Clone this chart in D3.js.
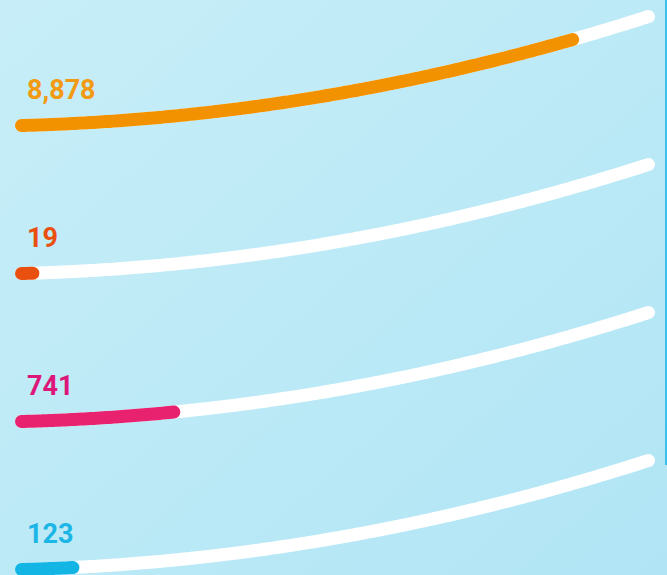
<!DOCTYPE html>
<html>
<head>
<meta charset="utf-8">
<script src="https://cdn.jsdelivr.net/npm/d3@7.9.0/dist/d3.min.js"></script>
<style>
  html, body { margin: 0; padding: 0; overflow: hidden; }
  svg { display: block; }
</style>
</head>
<body>
<svg id="chart"></svg>
<script>
// Values shown on each track, and the goal each one is measured against
const values = [8878, 19, 741, 123];
const goals = [10100, 1050, 3050, 1500];
const barColors = ["#f39200", "#e9500f", "#e8226f", "#13b5e5"];
const textColors = ["#f39a14", "#e9500f", "#dd1779", "#1bb6e6"];

const width = 667;
const height = 575;
const strokeW = 13;
const rise = 109; // how far the track climbs from left to right

const svg = d3.select("#chart")
  .attr("width", width)
  .attr("height", height);

// soft blue background
const defs = svg.append("defs");
const grad = defs.append("linearGradient")
  .attr("id", "bg")
  .attr("x1", "0%").attr("y1", "0%")
  .attr("x2", "100%").attr("y2", "100%");
grad.append("stop").attr("offset", "0%").attr("stop-color", "#c7eef8");
grad.append("stop").attr("offset", "100%").attr("stop-color", "#b1e5f5");

svg.append("rect")
  .attr("width", width)
  .attr("height", height)
  .attr("fill", "url(#bg)");

// scales
const x = d3.scaleLinear().domain([0, 1]).range([21.5, 648.5]);
const row = d3.scaleLinear().domain([0, values.length - 1]).range([125.5, 569.5]);

// track curve: flat at the left, steeper to the right
const lift = u => rise * (0.15 * u + 0.85 * u * u);
const samples = d3.range(0, 1.0001, 0.005);

const line = d3.line()
  .x(d => x(d.u))
  .y(d => d.y)
  .curve(d3.curveBasis);

const rows = svg.selectAll(".row")
  .data(values)
  .join("g")
  .attr("class", "row");

// white tracks
rows.append("path")
  .attr("fill", "none")
  .attr("stroke", "#fff")
  .attr("stroke-width", strokeW)
  .attr("stroke-linecap", "round")
  .attr("d", (d, i) => line(samples.map(u => ({ u, y: row(i) - lift(u) }))));

// coloured progress
rows.append("path")
  .attr("fill", "none")
  .attr("stroke", (d, i) => barColors[i])
  .attr("stroke-width", strokeW)
  .attr("stroke-linecap", "round")
  .attr("d", (d, i) => {
    const f = Math.min(1, d / goals[i]);
    const pts = samples.filter(u => u <= f).concat([f]);
    return line(pts.map(u => ({ u, y: row(i) - lift(u) })));
  });

// value labels
rows.append("text")
  .attr("x", 27)
  .attr("y", (d, i) => row(i) - 27)
  .attr("fill", (d, i) => textColors[i])
  .style("font-family", "Roboto, sans-serif")
  .style("font-weight", "700")
  .style("font-size", "27px")
  .text(d => d3.format(",")(d));

// thin edge on the right
svg.append("line")
  .attr("x1", 666).attr("x2", 666)
  .attr("y1", 0).attr("y2", 465)
  .attr("stroke", "#3dbfe9")
  .attr("stroke-width", 2);
</script>
</body>
</html>
